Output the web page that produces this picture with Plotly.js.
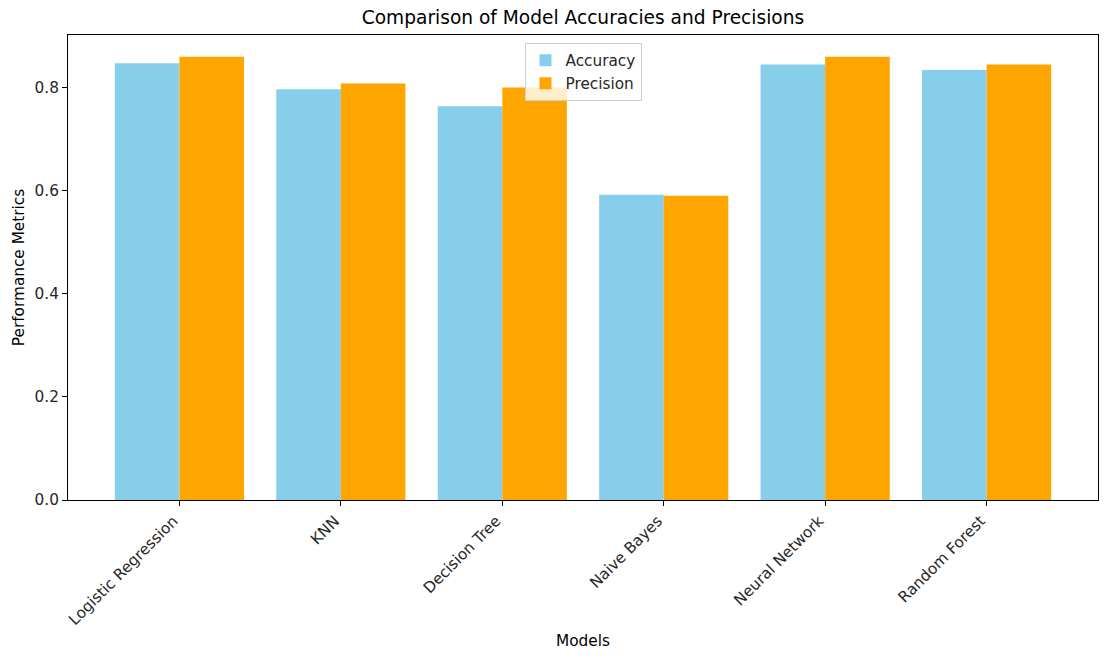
<!DOCTYPE html>
<html>
<head>
<meta charset="utf-8">
<script src="https://cdn.plot.ly/plotly-3.0.1.min.js"></script>
<style>html,body{margin:0;padding:0;background:#fff;}#chart{width:1107px;height:664px;}</style>
</head>
<body>
<div id="chart"></div>
<script>
const models = ["Logistic Regression", "KNN", "Decision Tree", "Naive Bayes", "Neural Network", "Random Forest"];
const accuracy = [0.847, 0.797, 0.764, 0.592, 0.845, 0.834];
const precision = [0.860, 0.808, 0.800, 0.590, 0.860, 0.845];

const font = "DejaVu Sans, sans-serif";
const fs = 15.3;
const data = [
  {type: "bar", name: "Accuracy", x: models, y: accuracy, marker: {color: "#87CEEB"}},
  {type: "bar", name: "Precision", x: models, y: precision, marker: {color: "#FFA500"}}
];
const layout = {
  width: 1107, height: 664,
  margin: {l: 68, r: 9, t: 35, b: 164},
  paper_bgcolor: "#fff", plot_bgcolor: "#fff",
  font: {family: font, size: fs, color: "#262626"},
  barmode: "group", bargap: 0.2, bargroupgap: 0,
  title: {text: "Comparison of Model Accuracies and Precisions", font: {family: font, size: 18.6, color: "#000"}, x: 0.5266, xanchor: "center", y: 0.973, yanchor: "middle"},
  xaxis: {
    type: "category", range: [-0.69, 5.69],
    tickangle: -45, ticks: "outside", ticklen: 5, tickcolor: "#000",
    showline: true, mirror: true, linecolor: "#000", linewidth: 1,
    showgrid: false, zeroline: false,
    ticklabelshift: -6,
    tickfont: {family: font, size: fs, color: "#262626"},
    title: {text: "Models", font: {family: font, size: fs, color: "#000"}, standoff: 7}
  },
  yaxis: {
    range: [0, 0.902], tickvals: [0, 0.2, 0.4, 0.6, 0.8], tickformat: ".1f",
    ticks: "outside", ticklen: 5, tickcolor: "#000",
    showline: true, mirror: true, linecolor: "#000", linewidth: 1,
    showgrid: false, zeroline: false,
    tickfont: {family: font, size: fs, color: "#262626"},
    title: {text: "Performance Metrics", font: {family: font, size: fs, color: "#000"}, standoff: 6}
  },
  legend: {
    x: 0.5, xanchor: "center", y: 0.983, yanchor: "top",
    bgcolor: "rgba(255,255,255,0.8)", bordercolor: "#d0d0d0", borderwidth: 1,
    font: {family: font, size: fs, color: "#262626"},
    tracegroupgap: 0
  },
  showlegend: true
};
Plotly.newPlot("chart", data, layout, {displayModeBar: false, staticPlot: true});
</script>
</body>
</html>
